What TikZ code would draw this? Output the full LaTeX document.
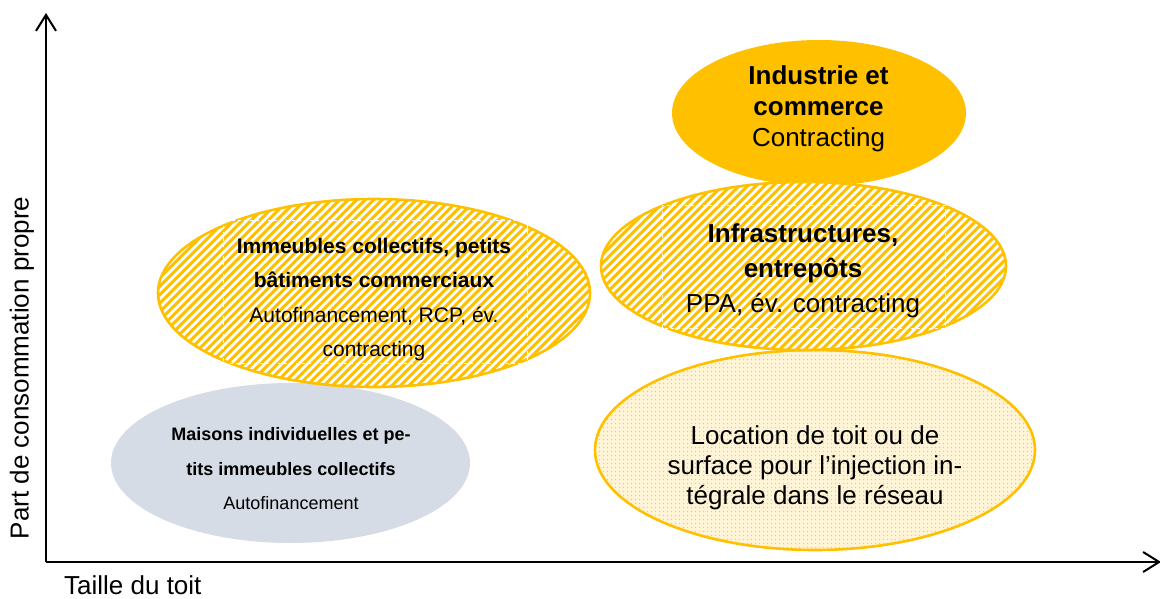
\documentclass[tikz,border=0pt]{standalone}
\usepackage{fontspec}
\setmainfont{Liberation Sans}
\usetikzlibrary{shapes.geometric,patterns.meta,arrows.meta}
\definecolor{gold}{HTML}{FFC000}
\definecolor{grayblue}{HTML}{D6DCE5}
\tikzset{
  blob/.style={ellipse, inner sep=0pt},
  hatched/.style={blob, fill=white, draw=gold, line width=2.6pt,
    path picture={\foreach \i in {-90,...,90}
      \draw[gold, line width=3pt] ([xshift=\i*8.5pt-300pt, yshift=-300pt]path picture bounding box.center) -- ++(600pt,600pt);}},
  dotted blob/.style={blob, preaction={fill=gold!16}, pattern={Dots[distance=4pt,radius=0.9pt]}, pattern color=gold!80, draw=gold, line width=2.6pt},
  solid blob/.style={blob, fill=gold},
  gray blob/.style={blob, fill=grayblue},
  txt/.style={align=center, inner sep=0pt, text=black},
  big/.style={font=\fontsize{26}{31}\selectfont},
  mid/.style={font=\fontsize{21}{34.5}\selectfont},
  small/.style={font=\fontsize{18}{34.5}\selectfont},
  axis/.style={line width=2pt, -{Straight Barb[length=16pt,width=20pt,line width=2pt]}},
  textframe/.style={draw=white, dashed, line width=0.8pt}
}
\begin{document}
\begin{tikzpicture}[x=1pt,y=-1pt]
\useasboundingbox (0,0) rectangle (1160,599);
% axes
\coordinate (O) at (46,562);
\coordinate (ytop) at (46,13);
\coordinate (xend) at (1161,562);
\draw[axis] (O) -- (ytop);
\draw[axis] (O) -- (xend);
\node[txt, font=\fontsize{26}{31}\selectfont, anchor=base west] (xlab) at (64,594) {Taille du toit};
\node[txt, font=\fontsize{26}{31}\selectfont, rotate=90] (ylab) at (22,368) {Part de consommation propre};
% left ellipses
\node[gray blob, minimum width=359pt, minimum height=160pt] (maisons) at (290.5,463) {};
\node[hatched, minimum width=432pt, minimum height=188pt] (immeubles) at (374,293) {};
\draw[textframe] (223,220) rectangle (527,363);
% right ellipses
\node[solid blob, minimum width=294pt, minimum height=146pt] (industrie) at (819,113) {};
\node[dotted blob, minimum width=440pt, minimum height=200pt] (location) at (815,450) {};
\node[hatched, minimum width=405pt, minimum height=168pt] (infra) at (803.5,266) {};
\draw[textframe] (662,205) rectangle (945,328);
% texts
\node[txt, big] (tind) at (818.5,109) {\textbf{Industrie et}\\\textbf{commerce}\\Contracting};
\node[txt, font=\fontsize{26}{35}\selectfont] (tinfra) at (803,271) {\textbf{Infrastructures,}\\\textbf{entrepôts}\\PPA, év. contracting};
\node[txt, font=\fontsize{26}{30}\selectfont] (tloc) at (815,468) {Location de toit ou de\\surface pour l’injection in-\\tégrale dans le réseau};
\node[txt, mid] (timm) at (374,299.5) {\textbf{Immeubles collectifs, petits}\\\textbf{bâtiments commerciaux}\\Autofinancement, RCP, év.\\contracting};
\node[txt, small] (tmai) at (291,469) {\textbf{Maisons individuelles et pe-}\\\textbf{tits immeubles collectifs}\\Autofinancement};
\end{tikzpicture}
\end{document}
